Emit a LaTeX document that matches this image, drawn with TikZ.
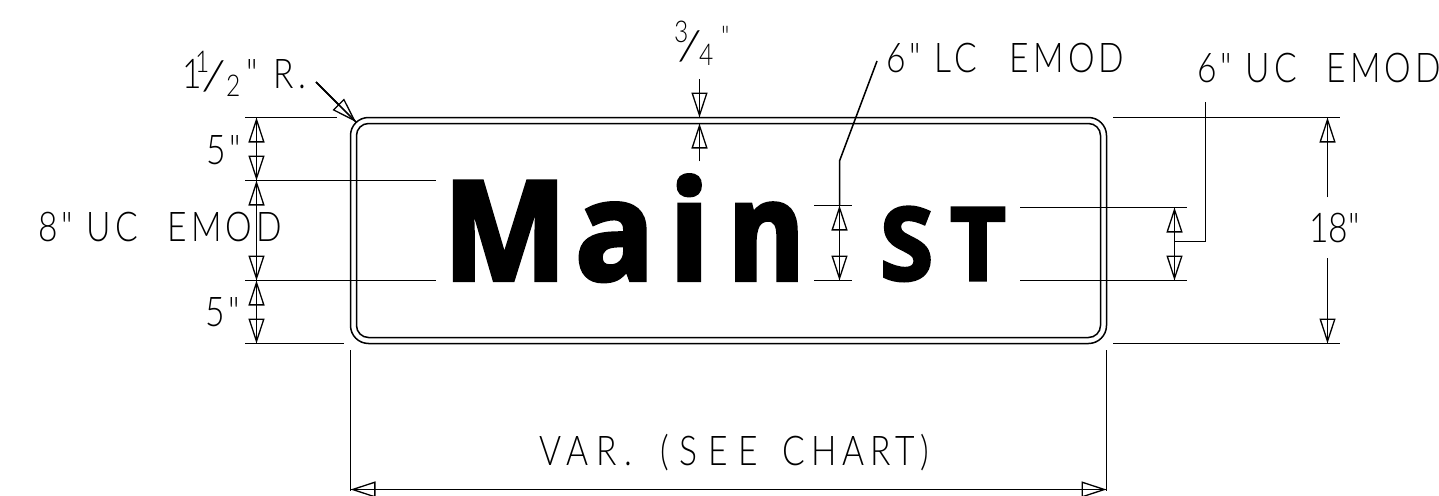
\documentclass[tikz,border=0pt]{standalone}
\usepackage{fontspec}
\usetikzlibrary{arrows.meta}
\newfontfamily\cadfont{Lato Light}[LetterSpace=10,FakeStretch=0.82]
\newfontfamily\cadbar{Lato Light}[FakeStretch=1.4]
\newfontfamily\signfont{Open Sans}[FakeStretch=0.95,BoldFeatures={FakeBold=3}]

\tikzset{
    dimline/.style={line width=1.5pt},
    opentip/.tip={Triangle[open,length=25pt,width=16pt,line width=1.3pt]},
    cadtext/.style={inner sep=0pt,anchor=base west,font=\cadfont\fontsize{41}{41}\selectfont},
    cadsmall/.style={inner sep=0pt,anchor=base west,font=\cadfont\fontsize{30}{30}\selectfont},
    cadslash/.style={inner sep=0pt,anchor=base west,font=\cadbar\fontsize{41}{41}\selectfont},
    signtext/.style={inner sep=0pt,anchor=base west,font=\signfont\bfseries\fontsize{138}{138}\selectfont},
    signcaps/.style={inner sep=0pt,anchor=base west,font=\signfont\bfseries\fontsize{101}{101}\selectfont}
}
% shaft and tips are drawn apart, the shaft shows inside the open tips
\newcommand{\dimboth}[2]{\draw[dimline] (#1) -- (#2); \draw[dimline,opentip-opentip] (#1) -- (#2);}
\newcommand{\dimone}[2]{\draw[dimline] (#1) -- (#2); \draw[dimline,-opentip] (#1) -- (#2);}

\begin{document}
\begin{tikzpicture}[x=1pt,y=-1pt]
    \useasboundingbox (0, 0) rectangle (1439, 495);

    % sign
    \draw [dimline, rounded corners=18pt] (350.5, 117.5) rectangle (1106.5, 343.5);
    \draw [dimline, rounded corners=12pt] (356.5, 123.5) rectangle (1100.5, 337.5);
    \node [signtext] (letterM) at (443, 280) {M};
    \node [signtext] (lettera) at (575, 280) {a};
    \node [signtext] (letteri) at (669, 280) {i};
    \node [signtext, font=\signfont\bfseries\fontsize{138}{138}\selectfont\addfontfeature{FakeStretch=0.84}] (lettern) at (728, 280) {n};
    \node [signcaps] (letterS) at (880, 280) {S};
    \node [signcaps] (letterT) at (950, 280) {T};

    % left dimensions
    \coordinate (leftA) at (256.5, 117.5);
    \coordinate (leftB) at (256.5, 180.5);
    \coordinate (leftC) at (256.5, 280.5);
    \coordinate (leftD) at (256.5, 343.5);
    \draw [dimline] (245, 117.5) -- (337, 117.5);
    \draw [dimline] (245, 180.5) -- (436, 180.5);
    \draw [dimline] (245, 280.5) -- (436, 280.5);
    \draw [dimline] (245, 343.5) -- (344, 343.5);
    \dimboth{leftA}{leftB}
    \dimboth{leftB}{leftC}
    \dimboth{leftC}{leftD}
    \node [cadtext] (fiveA) at (206, 164) {5"};
    \node [cadtext] (eightUC) at (38, 241) {8" UC\hspace{30pt}EMOD};
    \node [cadtext] (fiveB) at (205, 326) {5"};

    % corner radius
    \node [cadtext] (radiusA) at (182, 88) {1};
    \node [cadsmall] (radiusB) at (195, 72) {1};
    \node [cadslash] (radiusC) at (201, 90) {/};
    \node [cadsmall] (radiusD) at (226, 96) {2};
    \node [cadtext] (radiusE) at (246, 88) {"\hspace{3pt} R.};
    \coordinate (cornerA) at (316, 82);
    \coordinate (cornerB) at (356, 122);
    \dimone{cornerA}{cornerB}

    % border gap
    \coordinate (gapA) at (699.5, 79);
    \coordinate (gapB) at (699.5, 117.5);
    \coordinate (gapC) at (699.5, 161);
    \coordinate (gapD) at (699.5, 123.5);
    \dimone{gapA}{gapB}
    \dimone{gapC}{gapD}
    \node [cadsmall] (gapNum) at (674, 43) {3};
    \node [cadslash] (gapBar) at (677, 60) {/};
    \node [cadsmall] (gapDen) at (699, 65) {4};
    \node [cadsmall] (gapMark) at (721, 48) {"};

    % lower case height
    \coordinate (lowerA) at (839.5, 205.5);
    \coordinate (lowerB) at (839.5, 280.5);
    \coordinate (lowerC) at (839.5, 161);
    \coordinate (lowerD) at (877, 61);
    \draw [dimline] (814, 205.5) -- (852, 205.5);
    \draw [dimline] (814, 280.5) -- (852, 280.5);
    \dimboth{lowerA}{lowerB}
    \draw [dimline] (lowerA) -- (lowerC) -- (lowerD);
    \node [cadtext] (lowerText) at (886, 73) {6" LC\hspace{33pt}EMOD};

    % upper case height
    \coordinate (upperA) at (1174.5, 207.5);
    \coordinate (upperB) at (1174.5, 280.5);
    \coordinate (upperC) at (1174.5, 241.5);
    \coordinate (upperD) at (1205.5, 241.5);
    \coordinate (upperE) at (1205.5, 102);
    \draw [dimline] (1020, 207.5) -- (1187, 207.5);
    \draw [dimline] (1020, 280.5) -- (1187, 280.5);
    \dimboth{upperA}{upperB}
    \draw [dimline] (upperC) -- (upperD) -- (upperE);
    \node [cadtext] (upperText) at (1197, 82) {6" UC\hspace{30pt}EMOD};

    % height
    \coordinate (heightA) at (1327.5, 197);
    \coordinate (heightB) at (1327.5, 117.5);
    \coordinate (heightC) at (1327.5, 258);
    \coordinate (heightD) at (1327.5, 343.5);
    \draw [dimline] (1113, 117.5) -- (1340, 117.5);
    \draw [dimline] (1113, 343.5) -- (1340, 343.5);
    \dimone{heightA}{heightB}
    \dimone{heightC}{heightD}
    \node [cadtext] (heightText) at (1309, 242) {\addfontfeature{LetterSpace=0}18"};

    % width
    \coordinate (widthA) at (350.5, 489.5);
    \coordinate (widthB) at (1106.5, 489.5);
    \draw [dimline] (350.5, 350) -- (350.5, 491);
    \draw [dimline] (1106.5, 350) -- (1106.5, 491);
    \dimboth{widthA}{widthB}
    \node [cadtext] (widthText) at (539, 465) {\addfontfeature{LetterSpace=18}VAR.\hspace{28pt}{\addfontfeature{LetterSpace=26}(SEE}\hspace{25pt}{\addfontfeature{LetterSpace=14}CHART)}};
\end{tikzpicture}
\end{document}
